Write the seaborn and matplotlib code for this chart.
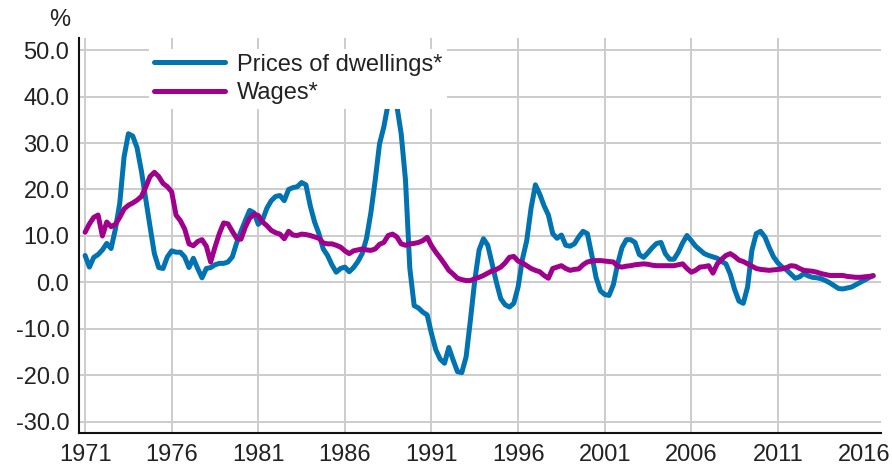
import pandas as pd
import seaborn as sns
import matplotlib.pyplot as plt

# quarterly year-on-year change, %, 1971Q1 - 2016Q3
dwellings = [
    5.8, 3.3, 5.4, 6.0,        # 1971
    7.0, 8.4, 7.3, 11.5,       # 1972
    17.0, 27.0, 32.0, 31.5,    # 1973
    29.0, 24.0, 18.0, 12.0,    # 1974
    6.2, 3.2, 3.0, 5.5,        # 1975
    6.8, 6.5, 6.5, 5.5,        # 1976
    3.2, 5.2, 3.0, 1.0,        # 1977
    3.0, 3.2, 3.8, 4.1,        # 1978
    4.1, 4.4, 5.5, 8.5,        # 1979
    11.0, 13.3, 15.5, 15.0,    # 1980
    12.5, 13.5, 16.0, 17.6,    # 1981
    18.5, 18.7, 17.6, 20.0,    # 1982
    20.4, 20.6, 21.5, 21.0,    # 1983
    16.5, 13.0, 10.5, 7.2,     # 1984
    5.8, 3.8, 2.2, 3.0,        # 1985
    3.3, 2.3, 3.2, 4.5,        # 1986
    6.2, 9.5, 15.0, 22.0,      # 1987
    29.8, 33.5, 38.5, 41.0,    # 1988
    38.0, 32.0, 22.0, 3.0,     # 1989
    -5.0, -5.5, -6.4, -7.0,    # 1990
    -11.0, -14.5, -16.5, -17.4,  # 1991
    -14.0, -16.7, -19.2, -19.4,  # 1992
    -16.0, -8.0, 0.5, 7.0,     # 1993
    9.4, 8.0, 4.0, 0.0,        # 1994
    -3.5, -4.8, -5.3, -4.5,    # 1995
    -1.0, 5.0, 9.0, 16.0,      # 1996
    21.0, 19.0, 16.5, 14.5,    # 1997
    10.5, 9.5, 10.2, 8.0,      # 1998
    7.8, 8.3, 9.8, 11.0,       # 1999
    10.5, 6.0, 1.1, -1.8,      # 2000
    -2.6, -2.8, -0.5, 4.0,     # 2001
    7.5, 9.2, 9.2, 8.6,        # 2002
    6.0, 5.4, 6.4, 7.5,        # 2003
    8.4, 8.6, 6.2, 5.0,        # 2004
    5.0, 6.5, 8.5, 10.1,       # 2005
    9.0, 7.8, 7.0, 6.2,        # 2006
    5.8, 5.5, 5.2, 4.5,        # 2007
    4.0, 1.8, -1.5, -4.0,      # 2008
    -4.5, -1.0, 6.9, 10.5,     # 2009
    11.0, 9.8, 7.5, 5.5,       # 2010
    4.2, 3.3, 2.7, 1.8,        # 2011
    0.9, 1.2, 1.9, 1.4,        # 2012
    1.1, 1.0, 0.8, 0.4,        # 2013
    -0.1, -0.7, -1.3, -1.4,    # 2014
    -1.2, -1.0, -0.5, 0.0,     # 2015
    0.5, 1.0, 1.5,             # 2016
]

wages = [
    10.8, 12.6, 14.0, 14.5,    # 1971
    10.0, 13.0, 12.0, 12.5,    # 1972
    14.0, 15.8, 16.6, 17.1,    # 1973
    17.7, 18.5, 20.5, 22.8,    # 1974
    23.7, 22.8, 21.3, 20.6,    # 1975
    19.5, 14.5, 13.3, 11.5,    # 1976
    8.3, 7.9, 8.8, 9.2,        # 1977
    7.8, 4.4, 7.6, 10.5,       # 1978
    12.8, 12.6, 11.0, 9.5,     # 1979
    9.3, 11.9, 13.8, 14.7,     # 1980
    14.4, 13.0, 12.2, 11.2,    # 1981
    10.7, 10.4, 9.4, 11.0,     # 1982
    10.2, 10.1, 10.4, 10.3,    # 1983
    10.1, 9.8, 9.5, 8.5,       # 1984
    8.3, 8.3, 8.0, 7.6,        # 1985
    6.8, 6.2, 6.8, 7.0,        # 1986
    7.2, 7.0, 6.9, 7.2,        # 1987
    8.2, 8.6, 10.1, 10.4,      # 1988
    9.8, 8.3, 8.0, 8.3,        # 1989
    8.4, 8.6, 9.0, 9.7,        # 1990
    7.9, 6.5, 5.3, 4.0,        # 1991
    2.6, 1.8, 0.9, 0.6,        # 1992
    0.4, 0.4, 0.8, 1.1,        # 1993
    1.5, 2.0, 2.5, 2.8,        # 1994
    3.3, 4.2, 5.4, 5.6,        # 1995
    4.6, 4.2, 3.6, 3.0,        # 1996
    2.6, 2.3, 1.5, 0.9,        # 1997
    3.0, 3.3, 3.6, 3.0,        # 1998
    2.6, 2.8, 2.9, 3.8,        # 1999
    4.4, 4.6, 4.7, 4.7,        # 2000
    4.6, 4.5, 4.4, 3.5,        # 2001
    3.3, 3.5, 3.6, 3.8,        # 2002
    3.9, 4.0, 3.9, 3.7,        # 2003
    3.6, 3.6, 3.6, 3.6,        # 2004
    3.6, 3.8, 4.0, 3.0,        # 2005
    2.2, 2.6, 3.3, 3.4,        # 2006
    3.6, 2.0, 4.0, 5.0,        # 2007
    5.8, 6.2, 5.6, 4.8,        # 2008
    4.5, 4.0, 3.5, 3.0,        # 2009
    2.8, 2.7, 2.6, 2.7,        # 2010
    2.8, 2.9, 3.2, 3.6,        # 2011
    3.5, 3.0, 2.6, 2.5,        # 2012
    2.4, 2.2, 1.9, 1.7,        # 2013
    1.5, 1.5, 1.5, 1.5,        # 2014
    1.3, 1.2, 1.1, 1.1,        # 2015
    1.2, 1.3, 1.4,             # 2016
]

series_names = ["Prices of dwellings*", "Wages*"]
colors = ["#0073B0", "#A0008C"]
year_ticks = list(range(1971, 2017, 5))
y_ticks = list(range(-30, 51, 10))

quarters = pd.period_range("1971Q1", "2016Q3", freq="Q")
t = quarters.year + (quarters.quarter - 1) / 4

df = pd.concat([
    pd.DataFrame({"t": t, "value": dwellings, "series": series_names[0]}),
    pd.DataFrame({"t": t, "value": wages, "series": series_names[1]}),
])

sns.set_style("white")
plt.rcParams["font.family"] = ["Liberation Sans", "DejaVu Sans"]

fig = plt.figure(figsize=(8.92, 4.68), dpi=100)
ax = fig.add_axes([0.0886, 0.0748, 0.899, 0.844])

sns.lineplot(data=df, x="t", y="value", hue="series", palette=colors,
             linewidth=3.6, ax=ax, legend=False)

ax.set_xlim(1970.65, 2016.95)
ax.set_ylim(-32.4, 52.6)
ax.set_xticks(year_ticks)
ax.set_yticks(y_ticks)
ax.set_yticklabels([f"{v:.1f}" for v in y_ticks])
ax.set_xlabel("")
ax.set_ylabel("")
ax.tick_params(axis="both", length=0, labelsize=17, colors="#222222")
ax.tick_params(axis="x", pad=8)
ax.tick_params(axis="y", pad=7)

ax.grid(True, color="#cccccc", linewidth=1.4)
ax.set_axisbelow(True)
ax.get_xgridlines()[-1].set_visible(False)

for side in ["top", "right"]:
    ax.spines[side].set_visible(False)
for side in ["left", "bottom"]:
    ax.spines[side].set_color("#111111")
    ax.spines[side].set_linewidth(1.5)

handles = [plt.Line2D([], [], color=c, linewidth=3.6) for c in colors]
leg = ax.legend(handles, series_names, loc="upper left",
                bbox_to_anchor=(0.073, 1.002), fontsize=17,
                frameon=True, framealpha=1, facecolor="white", edgecolor="none",
                fancybox=False, borderpad=0.2, handlelength=3.0,
                handletextpad=0.5, labelspacing=0.26)
leg.get_frame().set_linewidth(0)
for txt in leg.get_texts():
    txt.set_color("#222222")

fig.text(0.067, 0.958, "%", fontsize=17, color="#222222", ha="center", va="center")

fig.savefig("out.png", dpi=100)
